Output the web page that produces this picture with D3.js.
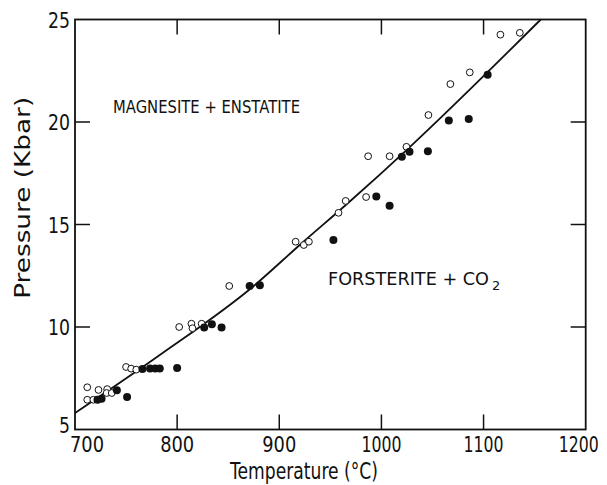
<!DOCTYPE html>
<html>
<head>
<meta charset="utf-8">
<script src="https://cdn.jsdelivr.net/npm/d3@7"></script>
<style>
  body { margin: 0; background: #fff; }
  text { font-family: "DejaVu Sans", sans-serif; fill: #111; }
</style>
</head>
<body>
<div id="chart"></div>
<script>
// data: [temperature C, pressure kbar]
var openPts = [
  [712, 7.06], [712, 6.45], [718, 6.45], [723, 6.93], [731.5, 6.97], [731, 6.78], [736, 6.78],
  [750, 8.05], [755, 7.97], [760, 7.92],
  [802, 10.0], [814, 10.16], [815, 9.94], [824, 10.16],
  [851, 12.0],
  [916, 14.16], [924, 14.0], [929, 14.16],
  [958, 15.57], [965, 16.15], [985, 16.34],
  [987, 18.33], [1008, 18.33], [1024.5, 18.79],
  [1046, 20.34], [1067.5, 21.85], [1086.5, 22.42],
  [1116.5, 24.26], [1135.5, 24.35]
];
var filledPts = [
  [722, 6.45], [726, 6.5], [741, 6.91], [751, 6.58],
  [766, 7.95], [773.5, 7.97], [778.5, 7.97], [783, 7.97], [800, 8.0],
  [826.5, 9.97], [834, 10.13], [843.5, 9.97],
  [871, 12.0], [881, 12.04],
  [953, 14.25], [995, 16.37], [1008, 15.92],
  [1020, 18.3], [1027.5, 18.55], [1045.5, 18.57],
  [1066, 20.07], [1085.5, 20.15], [1104, 22.3]
];
// reaction curve
var curvePts = [
  [700, 5.8], [783, 8.63], [875, 12.0], [920, 14.0], [969, 16.12], [1028, 18.79], [1156, 25]
];
var xTicks = [700, 800, 900, 1000, 1100, 1200];
var yTicks = [5, 10, 15, 20, 25];

var width = 607, height = 485;
var margin = {left: 75, right: 21.3, top: 19.5, bottom: 55.5};

var svg = d3.select("#chart").append("svg")
    .attr("width", width)
    .attr("height", height);

var x = d3.scaleLinear().domain([700, 1200]).range([margin.left, width - margin.right]);
var y = d3.scaleLinear().domain([5, 25]).range([height - margin.bottom, margin.top]);

// frame
svg.append("rect")
    .attr("x", x(700)).attr("y", y(25))
    .attr("width", x(1200) - x(700)).attr("height", y(5) - y(25))
    .attr("fill", "none").attr("stroke", "#111").attr("stroke-width", 1.8);

var tl = 15;
var innerX = xTicks.slice(1, -1), innerY = yTicks.slice(1, -1);
svg.selectAll(".tb").data(innerX).enter().append("line")
    .attr("x1", d => x(d)).attr("x2", d => x(d))
    .attr("y1", y(5)).attr("y2", y(5) - tl)
    .attr("stroke", "#111").attr("stroke-width", 1.5);
svg.selectAll(".tt").data(innerX).enter().append("line")
    .attr("x1", d => x(d)).attr("x2", d => x(d))
    .attr("y1", y(25)).attr("y2", y(25) + tl)
    .attr("stroke", "#111").attr("stroke-width", 1.5);
svg.selectAll(".tlft").data(innerY).enter().append("line")
    .attr("x1", x(700)).attr("x2", x(700) + tl)
    .attr("y1", d => y(d)).attr("y2", d => y(d))
    .attr("stroke", "#111").attr("stroke-width", 1.5);
svg.selectAll(".trgt").data(innerY).enter().append("line")
    .attr("x1", x(1200)).attr("x2", x(1200) - tl)
    .attr("y1", d => y(d)).attr("y2", d => y(d))
    .attr("stroke", "#111").attr("stroke-width", 1.5);

// tick labels (narrow lettering)
svg.selectAll(".xl").data(xTicks).enter().append("text")
    .attr("x", d => d == 700 ? x(d) - 5 : (d == 1200 ? x(d) + 13 : x(d)))
    .attr("y", y(5) + 22)
    .attr("text-anchor", d => d == 700 ? "start" : (d == 1200 ? "end" : "middle"))
    .attr("textLength", d => String(d).length == 3 ? 34 : 40)
    .attr("lengthAdjust", "spacingAndGlyphs")
    .style("font-size", "22px")
    .text(d => d);
svg.selectAll(".yl").data(yTicks).enter().append("text")
    .attr("x", x(700) - 5)
    .attr("y", d => d == 5 ? y(d) + 3 : y(d) + 8)
    .attr("text-anchor", "end")
    .attr("textLength", d => String(d).length == 1 ? 11 : 22)
    .attr("lengthAdjust", "spacingAndGlyphs")
    .style("font-size", "22px")
    .text(d => d);

// axis titles
svg.append("text")
    .attr("x", 304)
    .attr("y", 479)
    .attr("text-anchor", "middle")
    .attr("textLength", 148)
    .attr("lengthAdjust", "spacingAndGlyphs")
    .style("font-size", "23px")
    .text("Temperature (°C)");
svg.append("text")
    .attr("transform", "translate(30," + y(16.3) + ") rotate(-90)")
    .attr("text-anchor", "middle")
    .attr("textLength", 202)
    .attr("lengthAdjust", "spacingAndGlyphs")
    .style("font-size", "22px")
    .text("Pressure (Kbar)");

// curve
var line = d3.line()
    .x(d => x(d[0])).y(d => y(d[1]))
    .curve(d3.curveMonotoneX);
svg.append("path")
    .datum(curvePts)
    .attr("d", line)
    .attr("fill", "none").attr("stroke", "#111").attr("stroke-width", 1.8);

// points
svg.selectAll(".op").data(openPts).enter().append("circle")
    .attr("cx", d => x(d[0])).attr("cy", d => y(d[1]))
    .attr("r", 3.4)
    .attr("fill", "#fff").attr("stroke", "#111").attr("stroke-width", 1);
svg.selectAll(".fp").data(filledPts).enter().append("circle")
    .attr("cx", d => x(d[0])).attr("cy", d => y(d[1]))
    .attr("r", 4)
    .attr("fill", "#111");

// field labels
svg.append("text")
    .attr("x", 113).attr("y", 113)
    .attr("textLength", 187)
    .attr("lengthAdjust", "spacingAndGlyphs")
    .style("font-size", "18px")
    .text("MAGNESITE + ENSTATITE");
svg.append("text")
    .attr("x", 328).attr("y", 285)
    .attr("textLength", 161)
    .attr("lengthAdjust", "spacingAndGlyphs")
    .style("font-size", "18px")
    .text("FORSTERITE + CO");
svg.append("text")
    .attr("x", 492).attr("y", 290)
    .style("font-size", "13px")
    .text("2");
</script>
</body>
</html>
